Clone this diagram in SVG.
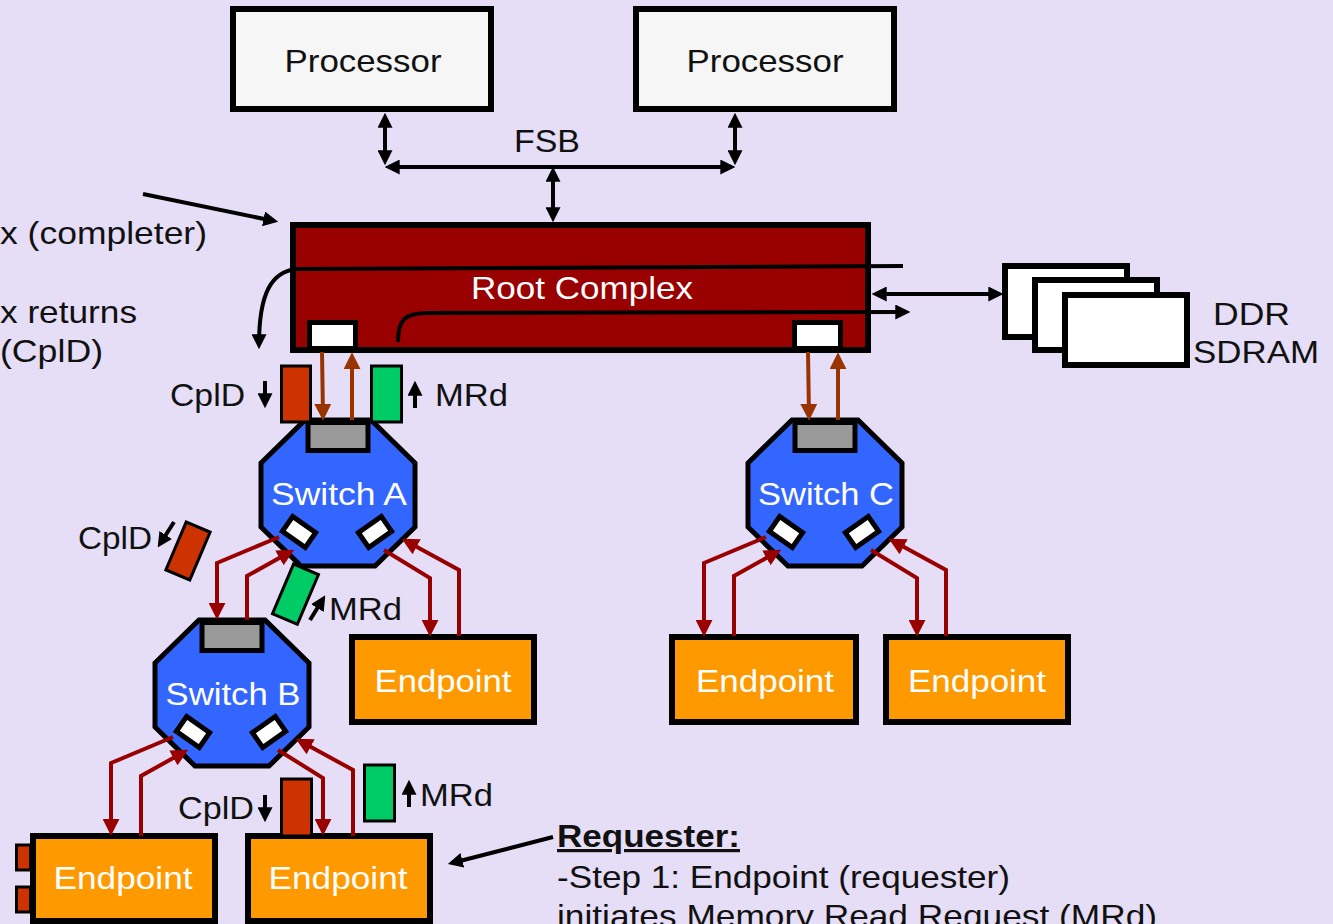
<svg xmlns="http://www.w3.org/2000/svg" width="1333" height="924" viewBox="0 0 1333 924">
  <style>
    .bg { fill: #E6DEF7; }
    .box { stroke: #000; stroke-width: 6; }
    .proc { fill: #F6F6F6; }
    .rc { fill: #990000; }
    .mem { fill: #FFFFFF; }
    .ep { fill: #FF9900; }
    .port { fill: #FFFFFF; stroke: #000; stroke-width: 5; }
    .pkt { stroke: #000; stroke-width: 3; }
    .cpl { fill: #CC3300; }
    .mrd { fill: #00CC66; }
    .wire { fill: none; stroke: #000; stroke-width: 4; }
    .link { fill: none; stroke: #990000; stroke-width: 4; }
    .up-link { fill: none; stroke: #993300; stroke-width: 4; }
    text { font-family: "Liberation Sans", Arial, sans-serif; font-size: 32px; }
    .dark { fill: #111111; }
    .light { fill: #FFFFFF; }
    .mid { text-anchor: middle; }
  </style>
  <defs>
    <marker id="head-black" viewBox="0 0 14 14" markerWidth="15" markerHeight="15" markerUnits="userSpaceOnUse" refX="10" refY="7" orient="auto-start-reverse">
      <path d="M0,0 L14,7 L0,14 z" fill="#000"/>
    </marker>
    <marker id="head-red" viewBox="0 0 14 14" markerWidth="17" markerHeight="17" markerUnits="userSpaceOnUse" refX="10" refY="7" orient="auto">
      <path d="M0,0 L14,7 L0,14 z" fill="#990000"/>
    </marker>
    <marker id="head-brown" viewBox="0 0 14 14" markerWidth="17" markerHeight="17" markerUnits="userSpaceOnUse" refX="10" refY="7" orient="auto">
      <path d="M0,0 L14,7 L0,14 z" fill="#993300"/>
    </marker>
    <!-- switch body drawn around (0, top): octagon, upstream port, two downstream ports -->
    <g id="switch-body">
      <polygon points="-33,0 33,0 77,43 77,107 37,146 -37,146 -77,107 -77,43" fill="#3366FF" stroke="#000" stroke-width="5"/>
      <rect x="-30" y="2.5" width="60" height="28" fill="#999999" stroke="#000" stroke-width="5"/>
      <rect x="-14" y="-9" width="28" height="18" class="port" stroke-width="4" transform="translate(-39,112) rotate(35)"/>
      <rect x="-14" y="-9" width="28" height="18" class="port" stroke-width="4" transform="translate(37,112) rotate(-35)"/>
    </g>
  </defs>

  <rect class="bg" x="0" y="0" width="1333" height="924"/>

  <!-- processors -->
  <g id="processor-1">
    <rect class="box proc" x="233" y="9" width="258" height="100"/>
    <text class="dark mid" x="363" y="72" textLength="157" lengthAdjust="spacingAndGlyphs">Processor</text>
  </g>
  <g id="processor-2">
    <rect class="box proc" x="636" y="9" width="258" height="100"/>
    <text class="dark mid" x="765" y="72" textLength="157" lengthAdjust="spacingAndGlyphs">Processor</text>
  </g>

  <!-- root complex with internal request/completion paths -->
  <g id="root-complex">
    <rect class="box rc" x="293" y="225" width="575" height="125"/>
    <rect class="port" x="309.5" y="322.5" width="46" height="26"/>
    <rect class="port" x="794.5" y="322.5" width="46" height="26"/>
    <text class="light mid" x="582" y="299" textLength="222" lengthAdjust="spacingAndGlyphs">Root Complex</text>
  </g>

  <!-- memory -->
  <g id="ddr-sdram">
    <rect class="box mem" x="1005" y="266" width="122" height="71"/>
    <rect class="box mem" x="1035" y="280" width="122" height="70"/>
    <rect class="box mem" x="1065" y="295" width="122" height="70"/>
    <text class="dark" x="1213" y="325" textLength="77" lengthAdjust="spacingAndGlyphs">DDR</text>
    <text class="dark" x="1193" y="363" textLength="126" lengthAdjust="spacingAndGlyphs">SDRAM</text>
  </g>

  <!-- switches -->
  <g id="switch-a">
    <use href="#switch-body" transform="translate(338,420)"/>
    <text class="light mid" x="339" y="505" textLength="136" lengthAdjust="spacingAndGlyphs">Switch A</text>
  </g>
  <g id="switch-c">
    <use href="#switch-body" transform="translate(825,420)"/>
    <text class="light mid" x="826" y="505" textLength="136" lengthAdjust="spacingAndGlyphs">Switch C</text>
  </g>
  <g id="switch-b">
    <use href="#switch-body" transform="translate(232,620)"/>
    <text class="light mid" x="233" y="705" textLength="135" lengthAdjust="spacingAndGlyphs">Switch B</text>
  </g>

  <!-- endpoints -->
  <g id="endpoint-a">
    <rect class="box ep" x="352" y="637" width="182" height="85"/>
    <text class="light mid" x="443" y="692" textLength="137" lengthAdjust="spacingAndGlyphs">Endpoint</text>
  </g>
  <g id="endpoint-c1">
    <rect class="box ep" x="672" y="637" width="184" height="85"/>
    <text class="light mid" x="765" y="692" textLength="138" lengthAdjust="spacingAndGlyphs">Endpoint</text>
  </g>
  <g id="endpoint-c2">
    <rect class="box ep" x="886" y="637" width="182" height="85"/>
    <text class="light mid" x="977" y="692" textLength="138" lengthAdjust="spacingAndGlyphs">Endpoint</text>
  </g>
  <g id="endpoint-b1">
    <rect class="pkt cpl" x="16.5" y="845" width="14" height="25"/>
    <rect class="pkt cpl" x="16.5" y="887" width="14" height="25"/>
    <rect class="box ep" x="33" y="836" width="182" height="85"/>
    <text class="light mid" x="123" y="889" textLength="139" lengthAdjust="spacingAndGlyphs">Endpoint</text>
  </g>
  <g id="endpoint-b2">
    <rect class="box ep" x="248" y="836" width="182" height="85"/>
    <text class="light mid" x="338" y="889" textLength="139" lengthAdjust="spacingAndGlyphs">Endpoint</text>
  </g>

  <!-- packets in flight -->
  <g id="packets">
    <rect class="pkt cpl" x="281.5" y="366" width="29" height="56"/>
    <rect class="pkt mrd" x="371.5" y="366" width="30" height="56"/>
    <rect class="pkt cpl" x="-13" y="-26" width="26" height="52" transform="translate(188,551) rotate(23)"/>
    <rect class="pkt mrd" x="-13" y="-27" width="27" height="54" transform="translate(295,594) rotate(23)"/>
    <rect class="pkt cpl" x="281.5" y="779" width="30" height="57"/>
    <rect class="pkt mrd" x="364.5" y="765" width="30" height="56"/>
  </g>

  <!-- connectors -->
  <g id="connectors">
    <!-- front side bus -->
    <path class="wire" d="M385,117 L385,161" marker-start="url(#head-black)" marker-end="url(#head-black)"/>
    <path class="wire" d="M735,117 L735,161" marker-start="url(#head-black)" marker-end="url(#head-black)"/>
    <path class="wire" d="M389,167 L731,167" marker-start="url(#head-black)" marker-end="url(#head-black)"/>
    <path class="wire" d="M553,171 L553,218" marker-start="url(#head-black)" marker-end="url(#head-black)"/>
    <!-- memory link -->
    <path class="wire" d="M876,294 L999,294" marker-start="url(#head-black)" marker-end="url(#head-black)"/>
    <!-- paths through the root complex -->
    <path class="wire" d="M903,266 L296,269 C272,272 259,292 259,345" marker-end="url(#head-black)"/>
    <path class="wire" d="M398,342 C398,320 404,313 428,313 L906,312" marker-end="url(#head-black)"/>
    <!-- callout pointers -->
    <path class="wire" d="M143,194 L274,221" marker-end="url(#head-black)"/>
    <path class="wire" d="M553,837 L452,863" marker-end="url(#head-black)"/>
    <!-- packet direction arrows -->
    <path class="wire" d="M265,381 L265,404" marker-end="url(#head-black)"/>
    <path class="wire" d="M415,408 L415,385" marker-end="url(#head-black)"/>
    <path class="wire" d="M174,522 L160,544" marker-end="url(#head-black)"/>
    <path class="wire" d="M310,620 L323,599" marker-end="url(#head-black)"/>
    <path class="wire" d="M265,795 L265,818" marker-end="url(#head-black)"/>
    <path class="wire" d="M409,807 L409,784" marker-end="url(#head-black)"/>
    <!-- root complex to switches -->
    <path class="up-link" d="M322,352 L323,416" marker-end="url(#head-brown)"/>
    <path class="up-link" d="M352,420 L352,357" marker-end="url(#head-brown)"/>
    <path class="up-link" d="M808,352 L809,416" marker-end="url(#head-brown)"/>
    <path class="up-link" d="M838,420 L838,357" marker-end="url(#head-brown)"/>
    <!-- switch A links -->
    <path class="link" d="M279,537 L217,563 L217,615" marker-end="url(#head-red)"/>
    <path class="link" d="M247,620 L247,576 L290,552" marker-end="url(#head-red)"/>
    <path class="link" d="M384,550 L430,578 L430,632" marker-end="url(#head-red)"/>
    <path class="link" d="M459,636 L459,570 L406,541" marker-end="url(#head-red)"/>
    <!-- switch C links -->
    <path class="link" d="M766,537 L704,563 L704,632" marker-end="url(#head-red)"/>
    <path class="link" d="M734,636 L734,576 L777,552" marker-end="url(#head-red)"/>
    <path class="link" d="M871,550 L917,578 L917,632" marker-end="url(#head-red)"/>
    <path class="link" d="M946,636 L946,570 L893,541" marker-end="url(#head-red)"/>
    <!-- switch B links -->
    <path class="link" d="M173,737 L111,763 L111,831" marker-end="url(#head-red)"/>
    <path class="link" d="M141,836 L141,776 L184,752" marker-end="url(#head-red)"/>
    <path class="link" d="M278,750 L323,778 L323,831" marker-end="url(#head-red)"/>
    <path class="link" d="M353,836 L353,770 L300,741" marker-end="url(#head-red)"/>
  </g>

  <!-- labels -->
  <g id="labels">
    <text class="dark mid" x="547" y="152" textLength="66" lengthAdjust="spacingAndGlyphs">FSB</text>
    <text class="dark" x="0" y="244" textLength="207" lengthAdjust="spacingAndGlyphs">x (completer)</text>
    <text class="dark" x="0" y="323" textLength="137" lengthAdjust="spacingAndGlyphs">x returns</text>
    <text class="dark" x="0" y="362" textLength="103" lengthAdjust="spacingAndGlyphs">(CplD)</text>
    <text class="dark" x="170" y="406" textLength="75" lengthAdjust="spacingAndGlyphs">CplD</text>
    <text class="dark" x="435" y="406" textLength="73" lengthAdjust="spacingAndGlyphs">MRd</text>
    <text class="dark" x="78" y="549" textLength="74" lengthAdjust="spacingAndGlyphs">CplD</text>
    <text class="dark" x="329" y="620" textLength="73" lengthAdjust="spacingAndGlyphs">MRd</text>
    <text class="dark" x="178" y="819" textLength="76" lengthAdjust="spacingAndGlyphs">CplD</text>
    <text class="dark" x="420" y="806" textLength="73" lengthAdjust="spacingAndGlyphs">MRd</text>
    <text class="dark" x="557" y="847" font-weight="bold" text-decoration="underline" textLength="183" lengthAdjust="spacingAndGlyphs">Requester:</text>
    <text class="dark" x="557" y="888" textLength="453" lengthAdjust="spacingAndGlyphs">-Step 1: Endpoint (requester)</text>
    <text class="dark" x="557" y="927" textLength="600" lengthAdjust="spacingAndGlyphs">initiates Memory Read Request (MRd)</text>
  </g>
</svg>
